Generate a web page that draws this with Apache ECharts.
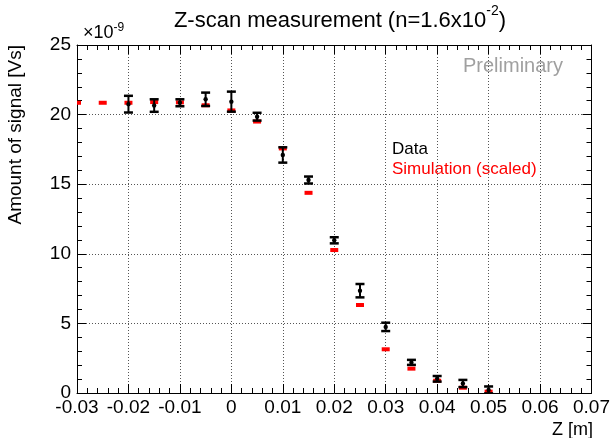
<!DOCTYPE html>
<html><head><meta charset="utf-8">
<script src="https://cdn.jsdelivr.net/npm/echarts/dist/echarts.min.js"></script>
<style>html,body{margin:0;padding:0;background:#fff}#c{width:613px;height:438px}</style>
</head><body><div id="c"></div>
<script>
const zData   = [-0.02,-0.015,-0.01,-0.005,0,0.005,0.01,0.015,0.02,0.025,0.03,0.035,0.04,0.045,0.05];
const dataVal = [20.75,20.65,20.85,21.1,20.93,19.85,17.1,15.3,10.97,7.35,4.75,2.2,1.02,0.68,0.22];
const dataErr = [0.6,0.45,0.25,0.48,0.72,0.28,0.55,0.25,0.22,0.48,0.3,0.18,0.2,0.26,0.25];
const zSim    = [-0.03,-0.025,-0.02,-0.015,-0.01,-0.005,0,0.005,0.01,0.015,0.02,0.025,0.03,0.035,0.04,0.045,0.05];
const simVal  = [20.85,20.85,20.85,20.9,20.88,20.67,20.3,19.5,17.57,14.38,10.27,6.32,3.14,1.75,0.88,0.38,0.1];
const xMin = -0.03, xMax = 0.07, xStep = 0.01;
const yMin = 0, yMax = 25, yStep = 5;

const FONT = '"Liberation Sans", Arial, Helvetica, sans-serif';
const chart = echarts.init(document.getElementById('c'), null, {renderer:'canvas'});

const errData = zData.map((z,i)=>[z, dataVal[i]-dataErr[i], dataVal[i]+dataErr[i], dataVal[i]]);
const simData = zSim.map((z,i)=>[z, simVal[i]]);

function axisCommon(extra){
  return Object.assign({
    type:'value',
    axisLine:{show:true, onZero:false, lineStyle:{color:'#000', width:1}},
    axisTick:{show:true, inside:true, length:9, lineStyle:{color:'#000', width:1}},
    minorTick:{show:true, splitNumber:5, length:5, lineStyle:{color:'#000', width:1}},
    minorSplitLine:{show:false}
  }, extra);
}

chart.setOption({
  animation:false,
  grid:{left:77, right:20, top:45, bottom:45, containLabel:false},
  xAxis:[
    axisCommon({min:xMin, max:xMax, interval:xStep, position:'bottom',
      axisLabel:{show:true, margin:5, color:'#000', fontSize:19, fontFamily:FONT,
        formatter:v=>{const r=Math.round(v*100)/100; return r===0?'0':r.toFixed(2);}},
      splitLine:{show:true, lineStyle:{color:'#555', type:[1,2], width:1}}}),
    axisCommon({min:xMin, max:xMax, interval:xStep, position:'top',
      axisLabel:{show:false}, splitLine:{show:false}})
  ],
  yAxis:[
    axisCommon({min:yMin, max:yMax, interval:yStep, position:'left',
      axisLabel:{show:true, margin:6, color:'#000', fontSize:19, fontFamily:FONT,
        formatter:v=>String(Math.round(v))},
      splitLine:{show:true, lineStyle:{color:'#555', type:[1,2], width:1}}}),
    axisCommon({min:yMin, max:yMax, interval:yStep, position:'right',
      axisLabel:{show:false}, splitLine:{show:false}})
  ],
  series:[
    {type:'custom', name:'Simulation (scaled)', data:simData, clip:true, z:2,
     encode:{x:0, y:1},
     renderItem:function(params, api){
       const p = api.coord([api.value(0), api.value(1)]);
       return {type:'rect', shape:{x:p[0]-4, y:p[1]-2, width:8, height:4}, style:{fill:'#ff0000'}};
     }},
    {type:'custom', name:'Data', data:errData, clip:true, z:3,
     encode:{x:0, y:[1,2,3]},
     renderItem:function(params, api){
       const x = api.value(0), lo = api.value(1), hi = api.value(2), v = api.value(3);
       const pl = api.coord([x, lo]), ph = api.coord([x, hi]), p = api.coord([x, v]);
       const cw = 4.5;
       const st = {stroke:'#000', lineWidth:2};
       return {type:'group', children:[
         {type:'line', shape:{x1:pl[0], y1:pl[1], x2:ph[0], y2:ph[1]}, style:st},
         {type:'line', shape:{x1:pl[0]-cw, y1:pl[1], x2:pl[0]+cw, y2:pl[1]}, style:{stroke:'#000', lineWidth:2.5}},
         {type:'line', shape:{x1:ph[0]-cw, y1:ph[1], x2:ph[0]+cw, y2:ph[1]}, style:{stroke:'#000', lineWidth:2.5}},
         {type:'circle', shape:{cx:p[0], cy:p[1], r:2.2}, style:{fill:'#000'}}
       ]};
     }}
  ],
  graphic:[
    {type:'text', x:340, y:4, style:{
      text:'{m|Z-scan measurement (n=1.6x10}{s|-2}{m|)}', textAlign:'center',
      rich:{m:{fontSize:22, fontFamily:FONT, fill:'#000', verticalAlign:'bottom', lineHeight:28},
            s:{fontSize:14, fontFamily:FONT, fill:'#000', verticalAlign:'top', lineHeight:28, padding:[0,0,12,0]}}}},
    {type:'text', x:83, y:22, style:{
      text:'{m|×10}{s|-9}',
      rich:{m:{fontSize:18, fontFamily:FONT, fill:'#000', lineHeight:22},
            s:{fontSize:12, fontFamily:FONT, fill:'#000', lineHeight:22, padding:[0,0,11,0]}}}},
    {type:'text', x:16, y:45, rotation:Math.PI/2, style:{
      text:'Amount of signal [Vs]', fontSize:19, fontFamily:FONT, fill:'#000',
      textAlign:'right', textVerticalAlign:'middle'}},
    {type:'text', x:593, y:430, style:{
      text:'Z [m]', fontSize:18, fontFamily:FONT, fill:'#000',
      textAlign:'right', textVerticalAlign:'middle'}},
    {type:'text', x:563, y:66, style:{
      text:'Preliminary', fontSize:20, fontFamily:FONT, fill:'#a0a0a0',
      textAlign:'right', textVerticalAlign:'middle'}},
    {type:'text', x:392, y:149, style:{
      text:'Data', fontSize:17, fontFamily:FONT, fill:'#000',
      textAlign:'left', textVerticalAlign:'middle'}},
    {type:'text', x:392, y:169, style:{
      text:'Simulation (scaled)', fontSize:17, fontFamily:FONT, fill:'#ff0000',
      textAlign:'left', textVerticalAlign:'middle'}}
  ]
});
</script></body></html>
